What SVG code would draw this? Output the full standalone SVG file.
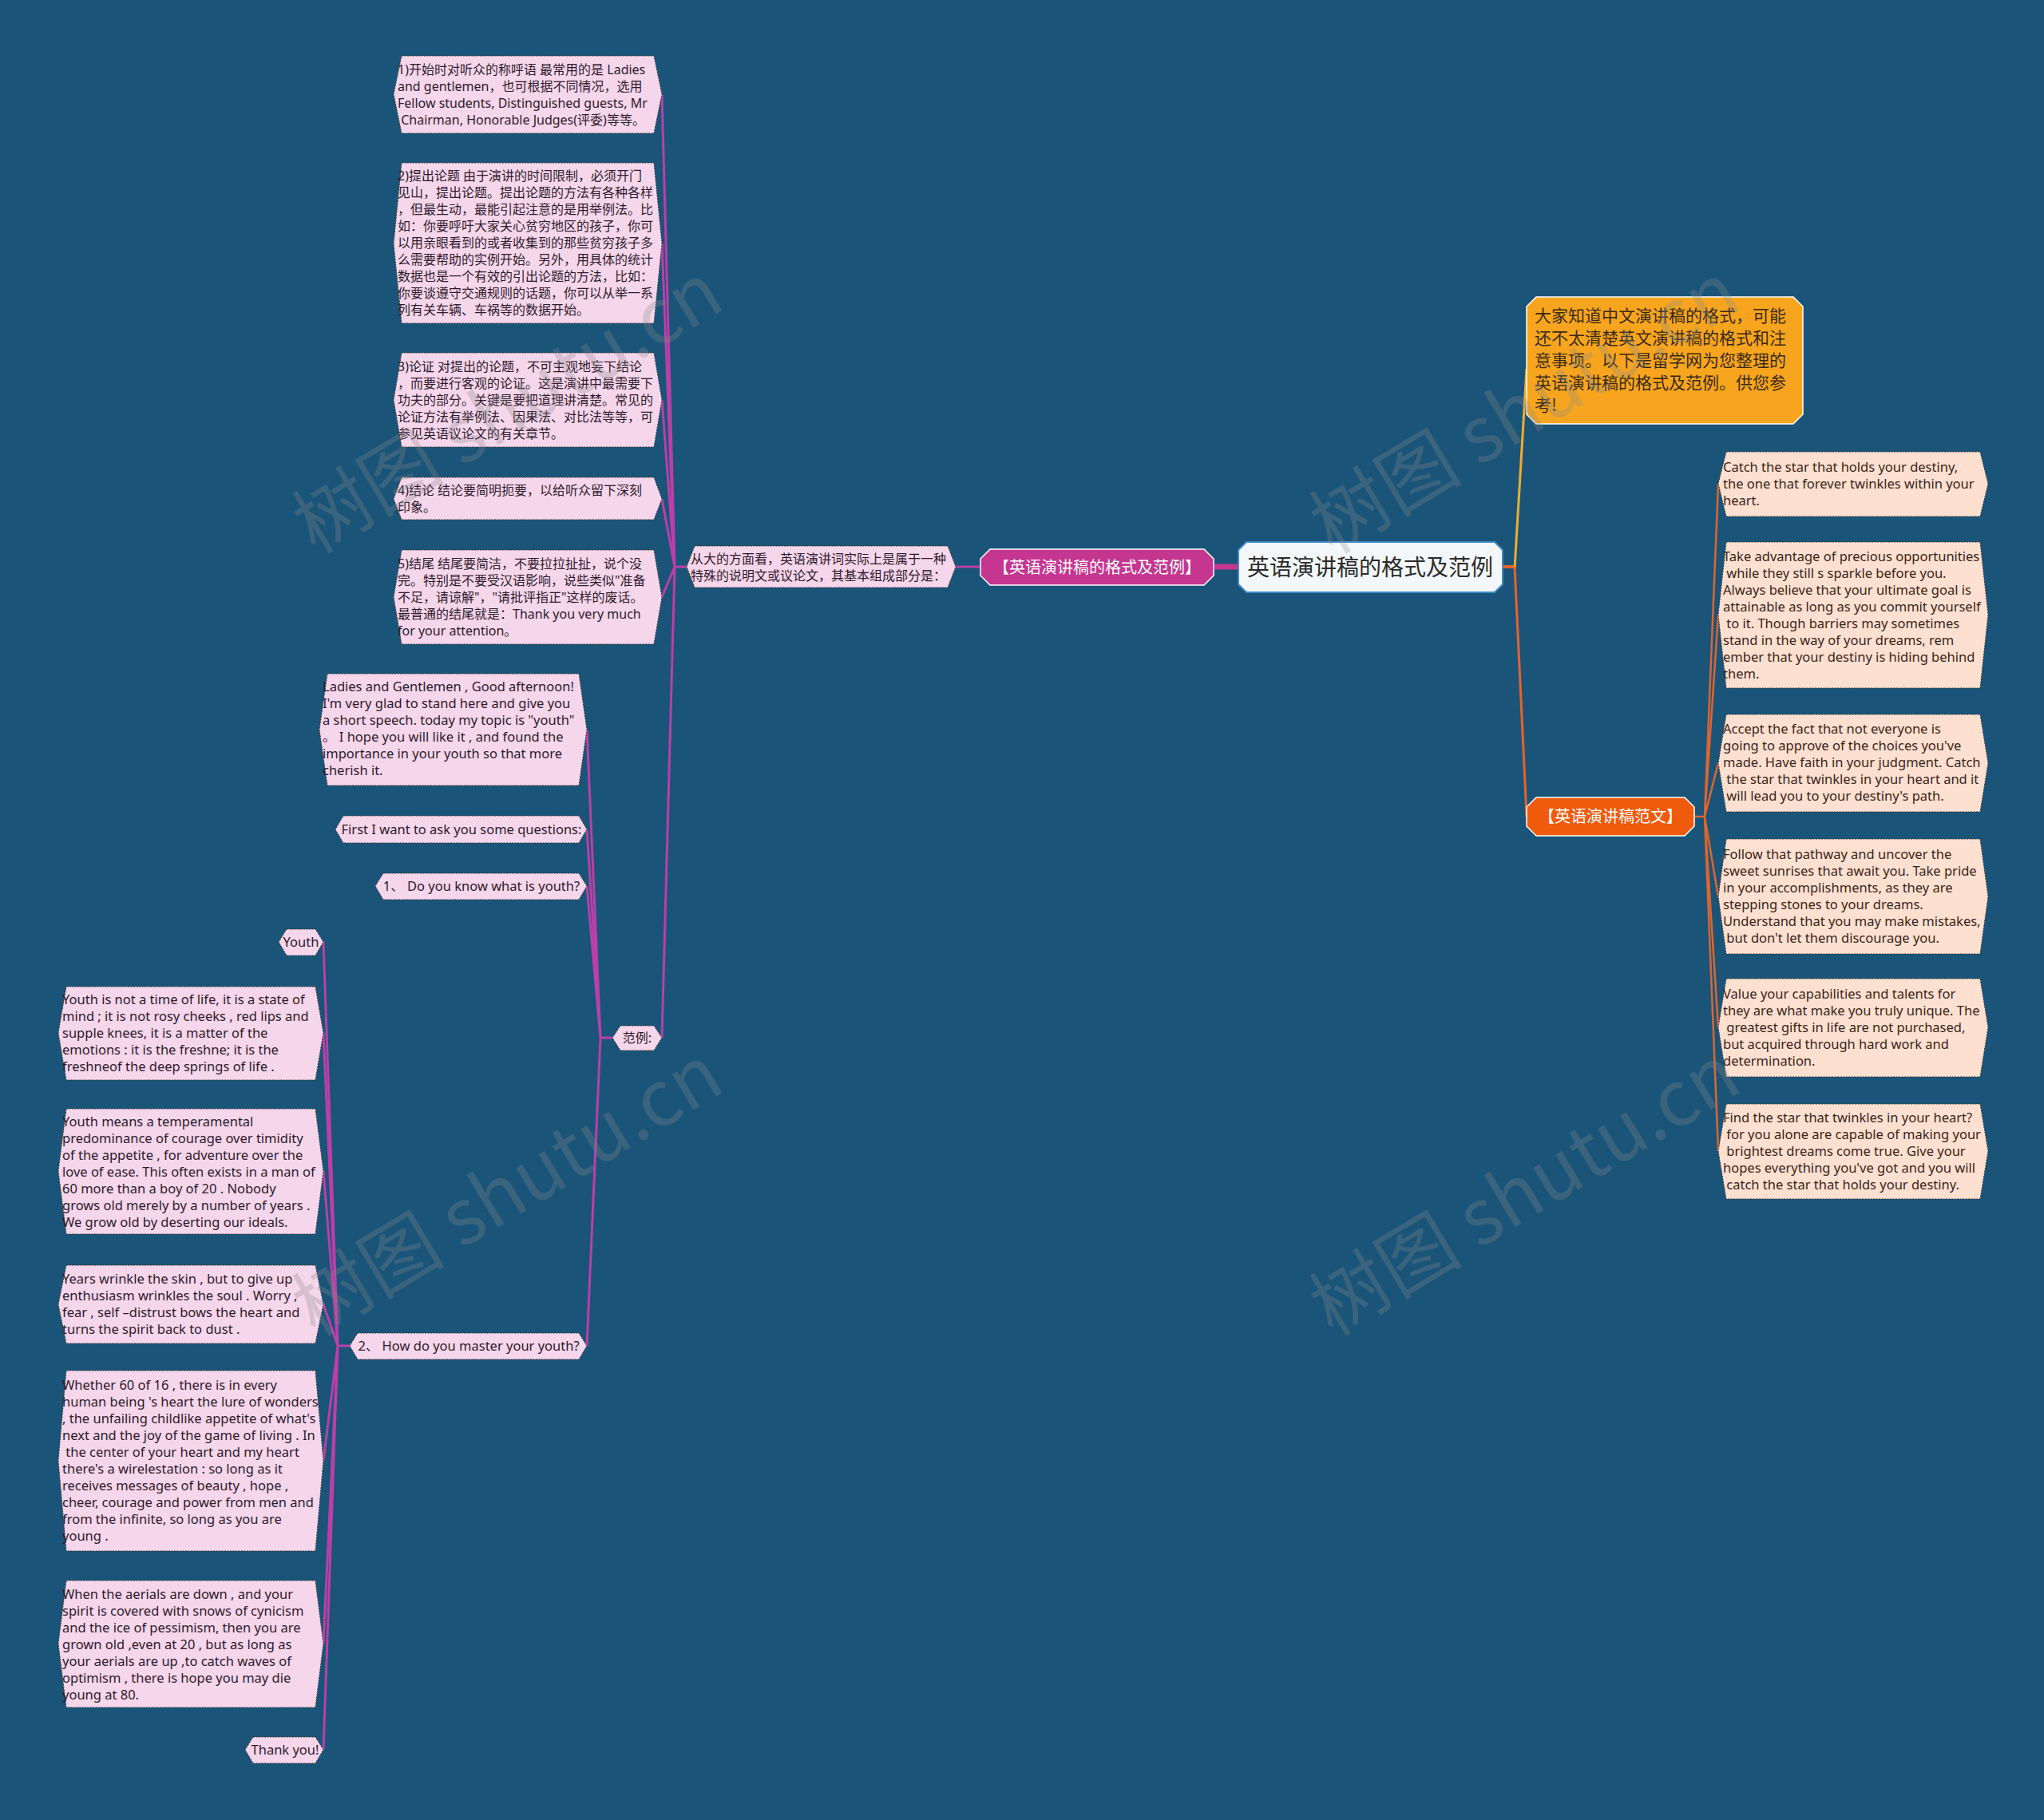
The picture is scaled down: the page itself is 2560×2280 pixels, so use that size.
<svg xmlns="http://www.w3.org/2000/svg" width="2560" height="2280" viewBox="0 0 2560 2280">
<style>
.t{font-family:"Noto Sans","Noto Sans CJK SC",sans-serif;font-size:16.5px;fill:#2e1a2c}
.tc{font-family:"Noto Sans","Noto Sans CJK SC",sans-serif;font-size:16px;fill:#2e1a2c}
.tp{font-family:"Noto Sans","Noto Sans CJK SC",sans-serif;font-size:16.5px;fill:#3a2418}
.pk{fill:#f5d6ea;stroke:#3a3a3a;stroke-width:1;stroke-dasharray:2 1.5}
.pc{fill:#fde0d0;stroke:#3a3a3a;stroke-width:1;stroke-dasharray:2 1.5}
.lm{fill:none;stroke:#bb3fa6;stroke-width:3}
.lo{fill:none;stroke:#dc6630;stroke-width:2.5}
.wm{font-family:"Noto Sans CJK SC","Liberation Serif",serif;font-size:96px;fill:#8a8a8a;opacity:0.28}
</style>
<rect width="2560" height="2280" fill="#1b5479"/>
<g id="connectors">
<path d="M1882,710 H1897" stroke="#e8622a" stroke-width="4" fill="none"/>
<path d="M1897,712 L1912,462" stroke="#f0ad2c" stroke-width="3" fill="none"/>
<path d="M1897,710 L1912,1023" stroke="#e8622a" stroke-width="3" fill="none"/>
<path class="lo" d="M2122,1023 H2135 M2135,1023 L2152,606 M2135,1023 L2152,770 M2135,1023 L2152,956 M2135,1023 L2152,1123 M2135,1023 L2152,1287 M2135,1023 L2152,1442"/>
<path d="M1551,710 H1520" stroke="#c4368f" stroke-width="7" fill="none"/>
<path class="lm" d="M1228,710 H1197"/>
<path class="lm" d="M860,710 H845 M845,710 L829,118 M845,710 L829,305 M845,710 L829,501 M845,710 L829,625 M845,710 L829,748 M845,710 L829,1300"/>
<path class="lm" d="M767,1300 H752 M752,1300 L735,914 M752,1300 L735,1039 M752,1300 L735,1110 M752,1300 L735,1686"/>
<path class="lm" d="M438,1686 H423 M423,1686 L405,1180 M423,1686 L405,1294 M423,1686 L405,1467 M423,1686 L405,1634 M423,1686 L405,1830 M423,1686 L405,2059 M423,1686 L405,2192"/>
</g>
<g id="root">
<polygon points="1561,679 1872,679 1882,689 1882,732 1872,742 1561,742 1551,732 1551,689" fill="#f4f7f9" stroke="#3f8ac8" stroke-width="2"/>
<text x="1716" y="721" text-anchor="middle" style="font-family:'Noto Sans CJK SC',sans-serif;font-size:28px;fill:#2b2b2b">英语演讲稿的格式及范例</text>
</g>
<g id="branch-format">
<polygon points="1240,688 1508,688 1520,700 1520,721 1508,733 1240,733 1228,721 1228,700" fill="#c4368f" stroke="#ffffff" stroke-width="1.5"/>
<text x="1374" y="718" text-anchor="middle" style="font-family:'Noto Sans CJK SC',sans-serif;font-size:20px;fill:#ffffff">【英语演讲稿的格式及范例】</text>
</g>
<g id="intro">
<polygon points="1924,372 2246,372 2258,384 2258,519 2246,531 1924,531 1912,519 1912,384" fill="#f7a51e" stroke="#ffffff" stroke-width="1.5"/>
<text style="font-family:'Noto Sans CJK SC',sans-serif;font-size:21px;fill:#3a2a14"><tspan x="1922" y="403">大家知道中文演讲稿的格式，可能</tspan><tspan x="1922" y="431">还不太清楚英文演讲稿的格式和注</tspan><tspan x="1922" y="459">意事项。以下是留学网为您整理的</tspan><tspan x="1922" y="487">英语演讲稿的格式及范例。供您参</tspan><tspan x="1922" y="515">考!</tspan></text>
</g>
<g id="branch-sample">
<polygon points="1924,999 2110,999 2122,1011 2122,1035 2110,1047 1924,1047 1912,1035 1912,1011" fill="#f05a0c" stroke="#ffffff" stroke-width="1.5"/>
<text x="2017" y="1030" text-anchor="middle" style="font-family:'Noto Sans CJK SC',sans-serif;font-size:20px;fill:#ffffff">【英语演讲稿范文】</text>
</g>
<g id="r1"><polygon class="pc" points="2162,566 2480,566 2490,606 2480,647 2162,647 2152,606"/>
<text class="tp"><tspan x="2158" y="591">Catch the star that holds your destiny,</tspan><tspan x="2158" y="612">the one that forever twinkles within your</tspan><tspan x="2158" y="633">heart.</tspan></text></g>
<g id="r2"><polygon class="pc" points="2162,679 2480,679 2490,770 2480,862 2162,862 2152,770"/>
<text class="tp"><tspan x="2158" y="703">Take advantage of precious opportunities</tspan><tspan x="2158" y="724"> while they still s sparkle before you.</tspan><tspan x="2158" y="745">Always believe that your ultimate goal is</tspan><tspan x="2158" y="766">attainable as long as you commit yourself</tspan><tspan x="2158" y="787"> to it. Though barriers may sometimes</tspan><tspan x="2158" y="808">stand in the way of your dreams, rem</tspan><tspan x="2158" y="829">ember that your destiny is hiding behind</tspan><tspan x="2158" y="850">them.</tspan></text></g>
<g id="r3"><polygon class="pc" points="2162,895 2480,895 2490,956 2480,1017 2162,1017 2152,956"/>
<text class="tp"><tspan x="2158" y="919">Accept the fact that not everyone is</tspan><tspan x="2158" y="940">going to approve of the choices you've</tspan><tspan x="2158" y="961">made. Have faith in your judgment. Catch</tspan><tspan x="2158" y="982"> the star that twinkles in your heart and it</tspan><tspan x="2158" y="1003"> will lead you to your destiny's path.</tspan></text></g>
<g id="r4"><polygon class="pc" points="2162,1051 2480,1051 2490,1123 2480,1195 2162,1195 2152,1123"/>
<text class="tp"><tspan x="2158" y="1076">Follow that pathway and uncover the</tspan><tspan x="2158" y="1097">sweet sunrises that await you. Take pride</tspan><tspan x="2158" y="1118">in your accomplishments, as they are</tspan><tspan x="2158" y="1139">stepping stones to your dreams.</tspan><tspan x="2158" y="1160">Understand that you may make mistakes,</tspan><tspan x="2158" y="1181"> but don't let them discourage you.</tspan></text></g>
<g id="r5"><polygon class="pc" points="2162,1226 2480,1226 2490,1287 2480,1349 2162,1349 2152,1287"/>
<text class="tp"><tspan x="2158" y="1251">Value your capabilities and talents for</tspan><tspan x="2158" y="1272">they are what make you truly unique. The</tspan><tspan x="2158" y="1293"> greatest gifts in life are not purchased,</tspan><tspan x="2158" y="1314">but acquired through hard work and</tspan><tspan x="2158" y="1335">determination.</tspan></text></g>
<g id="r6"><polygon class="pc" points="2162,1383 2480,1383 2490,1442 2480,1502 2162,1502 2152,1442"/>
<text class="tp"><tspan x="2158" y="1406">Find the star that twinkles in your heart?</tspan><tspan x="2158" y="1427"> for you alone are capable of making your</tspan><tspan x="2158" y="1448"> brightest dreams come true. Give your</tspan><tspan x="2158" y="1469">hopes everything you've got and you will</tspan><tspan x="2158" y="1490"> catch the star that holds your destiny.</tspan></text></g>
<g id="summary"><polygon class="pk" points="870,684 1187,684 1197,710 1187,736 870,736 860,710"/>
<text class="tc"><tspan x="865" y="706">从大的方面看，英语演讲词实际上是属于一种</tspan><tspan x="865" y="727">特殊的说明文或议论文，其基本组成部分是：</tspan></text></g>
<g id="p1"><polygon class="pk" points="503,70 819,70 829,118 819,167 503,167 493,118"/>
<text class="tc"><tspan x="498" y="93">1)开始时对听众的称呼语 最常用的是 Ladies</tspan><tspan x="498" y="114">and gentlemen，也可根据不同情况，选用</tspan><tspan x="498" y="135">Fellow students, Distinguished guests, Mr</tspan><tspan x="498" y="156"> Chairman, Honorable Judges(评委)等等。</tspan></text></g>
<g id="p2"><polygon class="pk" points="503,204 819,204 829,305 819,405 503,405 493,305"/>
<text class="tc"><tspan x="498" y="226">2)提出论题 由于演讲的时间限制，必须开门</tspan><tspan x="498" y="247">见山，提出论题。提出论题的方法有各种各样</tspan><tspan x="498" y="268">，但最生动，最能引起注意的是用举例法。比</tspan><tspan x="498" y="289">如：你要呼吁大家关心贫穷地区的孩子，你可</tspan><tspan x="498" y="310">以用亲眼看到的或者收集到的那些贫穷孩子多</tspan><tspan x="498" y="331">么需要帮助的实例开始。另外，用具体的统计</tspan><tspan x="498" y="352">数据也是一个有效的引出论题的方法，比如：</tspan><tspan x="498" y="373">你要谈遵守交通规则的话题，你可以从举一系</tspan><tspan x="498" y="394">列有关车辆、车祸等的数据开始。</tspan></text></g>
<g id="p3"><polygon class="pk" points="503,442 819,442 829,501 819,560 503,560 493,501"/>
<text class="tc"><tspan x="498" y="465">3)论证 对提出的论题，不可主观地妄下结论</tspan><tspan x="498" y="486">，而要进行客观的论证。这是演讲中最需要下</tspan><tspan x="498" y="507">功夫的部分。关键是要把道理讲清楚。常见的</tspan><tspan x="498" y="528">论证方法有举例法、因果法、对比法等等，可</tspan><tspan x="498" y="549">参见英语议论文的有关章节。</tspan></text></g>
<g id="p4"><polygon class="pk" points="503,598 819,598 829,625 819,651 503,651 493,625"/>
<text class="tc"><tspan x="498" y="620">4)结论 结论要简明扼要，以给听众留下深刻</tspan><tspan x="498" y="641">印象。</tspan></text></g>
<g id="p5"><polygon class="pk" points="503,689 819,689 829,748 819,807 503,807 493,748"/>
<text class="tc"><tspan x="498" y="712">5)结尾 结尾要简洁，不要拉拉扯扯，说个没</tspan><tspan x="498" y="733">完。特别是不要受汉语影响，说些类似"准备</tspan><tspan x="498" y="754">不足，请谅解"，"请批评指正"这样的废话。</tspan><tspan x="498" y="775">最普通的结尾就是：Thank you very much</tspan><tspan x="498" y="796">for your attention。</tspan></text></g>
<g id="example"><polygon class="pk" points="777,1285 819,1285 829,1300 819,1316 777,1316 767,1300"/>
<text class="tc" x="798" y="1306" text-anchor="middle">范例:</text></g>
<g id="ladies"><polygon class="pk" points="410,844 725,844 735,914 725,984 410,984 400,914"/>
<text class="t"><tspan x="404" y="866">Ladies and Gentlemen , Good afternoon!</tspan><tspan x="404" y="887">I'm very glad to stand here and give you</tspan><tspan x="404" y="908">a short speech. today my topic is "youth"</tspan><tspan x="404" y="929">。 I hope you will like it , and found the</tspan><tspan x="404" y="950">importance in your youth so that more</tspan><tspan x="404" y="971">cherish it.</tspan></text></g>
<g id="first"><polygon class="pk" points="430,1022 725,1022 735,1039 725,1056 430,1056 420,1039"/>
<text class="t" x="578" y="1045" text-anchor="middle">First I want to ask you some questions:</text></g>
<g id="q1"><polygon class="pk" points="480,1094 725,1094 735,1110 725,1127 480,1127 470,1110"/>
<text class="t" x="603" y="1116" text-anchor="middle">1、 Do you know what is youth?</text></g>
<g id="q2"><polygon class="pk" points="448,1670 725,1670 735,1686 725,1703 448,1703 438,1686"/>
<text class="t" x="587" y="1692" text-anchor="middle">2、 How do you master your youth?</text></g>
<g id="youth"><polygon class="pk" points="359,1164 395,1164 405,1180 395,1197 359,1197 349,1180"/>
<text class="t" x="377" y="1186" text-anchor="middle">Youth</text></g>
<g id="y1"><polygon class="pk" points="83,1236 395,1236 405,1294 395,1353 83,1353 73,1294"/>
<text class="t"><tspan x="78" y="1258">Youth is not a time of life, it is a state of</tspan><tspan x="78" y="1279">mind ; it is not rosy cheeks , red lips and</tspan><tspan x="78" y="1300">supple knees, it is a matter of the</tspan><tspan x="78" y="1321">emotions : it is the freshne; it is the</tspan><tspan x="78" y="1342">freshneof the deep springs of life .</tspan></text></g>
<g id="y2"><polygon class="pk" points="83,1389 395,1389 405,1467 395,1546 83,1546 73,1467"/>
<text class="t"><tspan x="78" y="1411">Youth means a temperamental</tspan><tspan x="78" y="1432">predominance of courage over timidity</tspan><tspan x="78" y="1453">of the appetite , for adventure over the</tspan><tspan x="78" y="1474">love of ease. This often exists in a man of</tspan><tspan x="78" y="1495">60 more than a boy of 20 . Nobody</tspan><tspan x="78" y="1516">grows old merely by a number of years .</tspan><tspan x="78" y="1537">We grow old by deserting our ideals.</tspan></text></g>
<g id="y3"><polygon class="pk" points="83,1585 395,1585 405,1634 395,1683 83,1683 73,1634"/>
<text class="t"><tspan x="78" y="1608">Years wrinkle the skin , but to give up</tspan><tspan x="78" y="1629">enthusiasm wrinkles the soul . Worry ,</tspan><tspan x="78" y="1650">fear , self –distrust bows the heart and</tspan><tspan x="78" y="1671">turns the spirit back to dust .</tspan></text></g>
<g id="y4"><polygon class="pk" points="83,1717 395,1717 405,1830 395,1943 83,1943 73,1830"/>
<text class="t"><tspan x="78" y="1741">Whether 60 of 16 , there is in every</tspan><tspan x="78" y="1762">human being 's heart the lure of wonders</tspan><tspan x="78" y="1783">, the unfailing childlike appetite of what's</tspan><tspan x="78" y="1804">next and the joy of the game of living . In</tspan><tspan x="78" y="1825"> the center of your heart and my heart</tspan><tspan x="78" y="1846">there's a wirelestation : so long as it</tspan><tspan x="78" y="1867">receives messages of beauty , hope ,</tspan><tspan x="78" y="1888">cheer, courage and power from men and</tspan><tspan x="78" y="1909">from the infinite, so long as you are</tspan><tspan x="78" y="1930">young .</tspan></text></g>
<g id="y5"><polygon class="pk" points="83,1980 395,1980 405,2059 395,2139 83,2139 73,2059"/>
<text class="t"><tspan x="78" y="2003">When the aerials are down , and your</tspan><tspan x="78" y="2024">spirit is covered with snows of cynicism</tspan><tspan x="78" y="2045">and the ice of pessimism, then you are</tspan><tspan x="78" y="2066">grown old ,even at 20 , but as long as</tspan><tspan x="78" y="2087">your aerials are up ,to catch waves of</tspan><tspan x="78" y="2108">optimism , there is hope you may die</tspan><tspan x="78" y="2129">young at 80.</tspan></text></g>
<g id="thanks"><polygon class="pk" points="317,2176 395,2176 405,2192 395,2209 317,2209 307,2192"/>
<text class="t" x="357" y="2198" text-anchor="middle">Thank you!</text></g>
<g id="watermarks">
<text class="wm" transform="translate(653,540) rotate(-31)" text-anchor="middle">树图 shutu.cn</text>
<text class="wm" transform="translate(653,1520) rotate(-31)" text-anchor="middle">树图 shutu.cn</text>
<text class="wm" transform="translate(1927,540) rotate(-31)" text-anchor="middle">树图 shutu.cn</text>
<text class="wm" transform="translate(1927,1520) rotate(-31)" text-anchor="middle">树图 shutu.cn</text>
</g>
</svg>
